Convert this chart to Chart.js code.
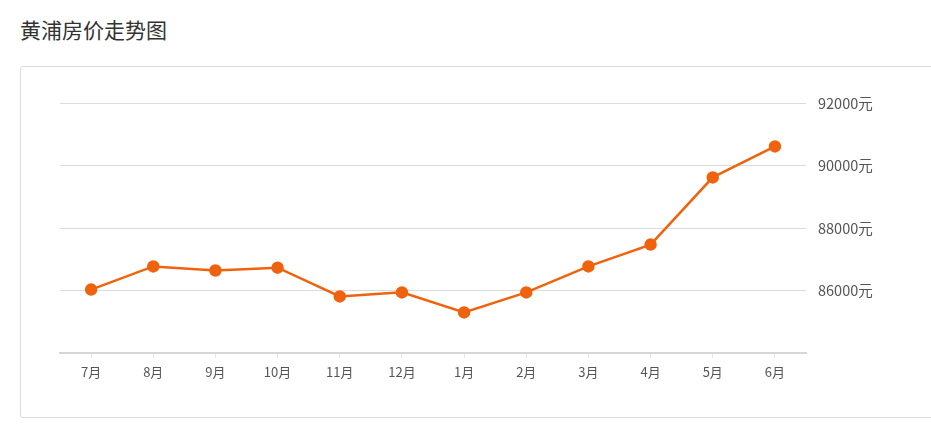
<!DOCTYPE html>
<html>
<head>
<meta charset="utf-8">
<script src="https://cdn.jsdelivr.net/npm/chart.js@4"></script>
<style>
  body { margin: 0; background: #fff; font-family: "Noto Sans CJK SC", sans-serif; }
  h1 { position: absolute; left: 20px; top: 14px; margin: 0; font-size: 21px; font-weight: normal; color: #333; }
  .box { position: absolute; left: 20px; top: 66px; width: 930px; height: 350px; border: 1px solid #ddd; border-radius: 3px; }
  .wrap { position: absolute; left: 0; top: 0; width: 931px; height: 431px; }
</style>
</head>
<body>
<h1>黄浦房价走势图</h1>
<div class="box"></div>
<div class="wrap"><canvas id="chart"></canvas></div>
<script>
const MONTH_LABELS = ["7月", "8月", "9月", "10月", "11月", "12月", "1月", "2月", "3月", "4月", "5月", "6月"];
const PRICES = [86030, 86770, 86640, 86730, 85810, 85940, 85300, 85940, 86770, 87470, 89620, 90610];
const Y_MIN = 84000;
const Y_MAX = 92000;
const Y_STEP = 2000;

const ORANGE = "#ef630e";

new Chart(document.getElementById("chart"), {
    type: "line",
    data: {
        labels: MONTH_LABELS,
        datasets: [{
            data: PRICES,
            borderColor: ORANGE,
            backgroundColor: ORANGE,
            borderWidth: 2.5,
            pointRadius: 5,
            pointHoverRadius: 5,
            tension: 0,
        }],
    },
    options: {
        responsive: true,
        maintainAspectRatio: false,
        animation: false,
        layout: { padding: { left: 60, top: 103, right: 0, bottom: 38 } },
        plugins: { legend: { display: false }, tooltip: { enabled: false } },
        scales: {
            x: {
                offset: true,
                grid: { display: true, drawOnChartArea: false, color: "#e6e6e6", tickLength: 5 },
                border: { color: "#d6d6d6", width: 2 },
                ticks: { color: "#555", font: { size: 13, family: "Noto Sans CJK SC" }, padding: 6 },
                afterFit: (s) => { s.height = 40; },
            },
            y: {
                position: "right",
                min: Y_MIN,
                max: Y_MAX,
                ticks: {
                    stepSize: Y_STEP,
                    color: "#555",
                    padding: 12,
                    font: { size: 14.5, family: "Noto Sans CJK SC" },
                    callback: (v) => (v === Y_MIN ? "" : v + "元"),
                },
                grid: { color: "#dcdcdc", drawTicks: false },
                border: { display: false },
                afterFit: (s) => { s.width = 125; },
            },
        },
    },
});
</script>
</body>
</html>
